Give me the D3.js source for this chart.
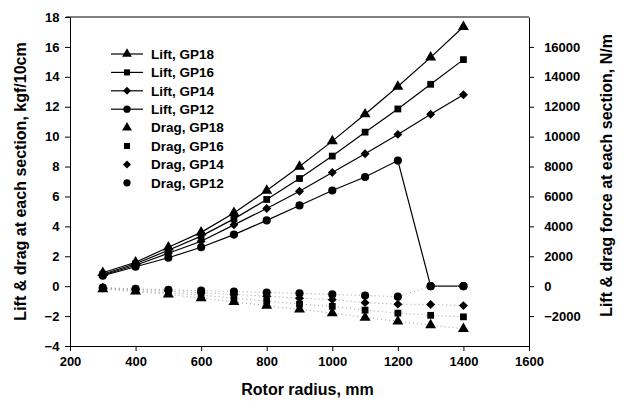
<!DOCTYPE html>
<html lang="en">
<head>
  <meta charset="utf-8">
  <title>Lift and drag per section</title>
  <script src="https://d3js.org/d3.v7.min.js"></script>
  <style>
    body { margin: 0; background: #fff; }
    #chart text { font-family: "Liberation Sans", Arial, sans-serif; font-weight: bold; fill: #000; }
    .tick line { stroke: #000; }
    .domain { stroke: #000; }
  </style>
</head>
<body>
  <div id="chart"></div>

  <script type="text/javascript">
    "use strict"

    // radius of each section, mm
    var radius = [300, 400, 500, 600, 700, 800, 900, 1000, 1100, 1200, 1300, 1400];

    // lift, kgf/10cm
    var liftGP18 = [0.9, 1.6, 2.6, 3.6, 4.9, 6.4, 8.0, 9.7, 11.5, 13.35, 15.3, 17.35];
    var liftGP16 = [0.8, 1.5, 2.4, 3.35, 4.5, 5.8, 7.2, 8.7, 10.3, 11.85, 13.5, 15.15];
    var liftGP14 = [0.75, 1.4, 2.2, 3.0, 4.1, 5.2, 6.35, 7.6, 8.85, 10.15, 11.5, 12.8];
    var liftGP12 = [0.7, 1.3, 1.9, 2.6, 3.45, 4.4, 5.4, 6.4, 7.3, 8.4, 0, 0];

    // drag, kgf/10cm
    var dragGP18 = [-0.2, -0.35, -0.55, -0.8, -1.05, -1.3, -1.55, -1.8, -2.1, -2.35, -2.6, -2.85];
    var dragGP16 = [-0.15, -0.3, -0.45, -0.6, -0.8, -1.0, -1.2, -1.35, -1.6, -1.8, -1.95, -2.05];
    var dragGP14 = [-0.12, -0.22, -0.33, -0.45, -0.55, -0.67, -0.8, -0.9, -1.1, -1.2, -1.22, -1.3];
    var dragGP12 = [-0.1, -0.17, -0.24, -0.3, -0.36, -0.42, -0.48, -0.55, -0.62, -0.7, 0, 0];

    var legendNames = ["Lift, GP18", "Lift, GP16", "Lift, GP14", "Lift, GP12",
                       "Drag, GP18", "Drag, GP16", "Drag, GP14", "Drag, GP12"];

    var xTicks = [200, 400, 600, 800, 1000, 1200, 1400, 1600];
    var yTicks = [-4, -2, 0, 2, 4, 6, 8, 10, 12, 14, 16, 18];
    var y2Ticks = [-2000, 0, 2000, 4000, 6000, 8000, 10000, 12000, 14000, 16000];

    // diamond = square turned 45 degrees
    var tri = {type: d3.symbolTriangle, size: 52, rot: 0};
    var sq = {type: d3.symbolSquare, size: 46, rot: 0};
    var dia = {type: d3.symbolSquare, size: 40, rot: 45};
    var circ = {type: d3.symbolCircle, size: 52, rot: 0};

    var series = [
      {name: legendNames[0], values: liftGP18, mark: tri, lift: true},
      {name: legendNames[1], values: liftGP16, mark: sq, lift: true},
      {name: legendNames[2], values: liftGP14, mark: dia, lift: true},
      {name: legendNames[3], values: liftGP12, mark: circ, lift: true},
      {name: legendNames[4], values: dragGP18, mark: tri, lift: false},
      {name: legendNames[5], values: dragGP16, mark: sq, lift: false},
      {name: legendNames[6], values: dragGP14, mark: dia, lift: false},
      {name: legendNames[7], values: dragGP12, mark: circ, lift: false}
    ];

    var larguraSVG = 626, alturaSVG = 408;
    var margin = {top: 17, right: 97, bottom: 62, left: 70};
    var w = larguraSVG - margin.left - margin.right,
        h = alturaSVG - margin.top - margin.bottom;

    var svg = d3.select('#chart')
      .append('svg')
        .attr('width', larguraSVG)
        .attr('height', alturaSVG);

    var g = svg.append('g')
        .attr('transform', 'translate(' + margin.left + ',' + margin.top + ')');

    // escalas
    var x = d3.scaleLinear().domain([200, 1600]).range([0, w]);
    var y = d3.scaleLinear().domain([-4, 18]).range([h, 0]);
    var y2 = d3.scaleLinear().domain([-4000, 18000]).range([h, 0]);

    // frame top line
    g.append('line')
      .attr('x1', -4).attr('x2', w)
      .attr('y1', 0).attr('y2', 0)
      .attr('stroke', '#000');

    // eixos
    g.append('g')
      .attr('transform', 'translate(0,' + h + ')')
      .call(d3.axisBottom(x).tickValues(xTicks).tickSize(5).tickSizeOuter(0).tickFormat(d3.format('d')))
      .call(function(a) { a.selectAll('text').attr('font-size', 13).attr('dy', '0.95em'); });

    g.append('g')
      .call(d3.axisLeft(y).tickValues(yTicks).tickSize(5).tickSizeOuter(0))
      .call(function(a) { a.selectAll('text').attr('font-size', 13).attr('dx', '-0.2em'); });

    g.append('g')
      .attr('transform', 'translate(' + w + ',0)')
      .call(d3.axisRight(y2).tickValues(y2Ticks).tickSize(5).tickSizeOuter(0)
        .tickFormat(d3.format('d')))
      .call(function(a) { a.selectAll('text').attr('font-size', 13).attr('dx', '0.55em'); });

    // linhas
    var line = d3.line()
      .x(function(d, i) { return x(radius[i]); })
      .y(function(d) { return y(d); });

    series.forEach(function(s) {
      g.append('path')
        .attr('d', line(s.values))
        .attr('fill', 'none')
        .attr('stroke', s.lift ? '#000' : '#999')
        .attr('stroke-width', s.lift ? 1.2 : 1)
        .attr('stroke-dasharray', s.lift ? null : '1,3');
    });

    // marcas
    series.forEach(function(s) {
      g.selectAll(null)
        .data(s.values)
        .enter()
        .append('path')
          .attr('d', d3.symbol().type(s.mark.type).size(s.mark.size))
          .attr('transform', function(d, i) {
            return 'translate(' + x(radius[i]) + ',' + y(d) + ') rotate(' + s.mark.rot + ')';
          })
          .attr('fill', '#000');
    });

    // legenda
    var leg = svg.append('g').attr('transform', 'translate(111,54)');
    series.forEach(function(s, i) {
      var row = leg.append('g').attr('transform', 'translate(0,' + (i * 18.4) + ')');
      if (s.lift) {
        row.append('line').attr('x1', 0).attr('x2', 32).attr('y1', 0).attr('y2', 0)
          .attr('stroke', '#000').attr('stroke-width', 1.2);
      }
      row.append('path')
        .attr('d', d3.symbol().type(s.mark.type).size(s.mark.size * 0.8))
        .attr('transform', 'translate(16,0) rotate(' + s.mark.rot + ')')
        .attr('fill', '#000');
      row.append('text')
        .attr('x', 40).attr('y', 0).attr('dy', '0.36em')
        .attr('font-size', 13.5)
        .text(s.name);
    });

    // titulos
    svg.append('text')
      .attr('x', margin.left + w / 2 + 8).attr('y', 389)
      .attr('text-anchor', 'middle').attr('dy', '0.35em')
      .attr('font-size', 16)
      .text('Rotor radius, mm');

    svg.append('text')
      .attr('transform', 'translate(20,' + (margin.top + h / 2) + ') rotate(-90)')
      .attr('text-anchor', 'middle').attr('dy', '0.35em')
      .attr('font-size', 16)
      .text('Lift  & drag at each section, kgf/10cm');

    svg.append('text')
      .attr('transform', 'translate(606,' + (margin.top + h / 2 - 6) + ') rotate(-90)')
      .attr('text-anchor', 'middle').attr('dy', '0.35em')
      .attr('font-size', 16)
      .text('Lift & drag force at each section, N/m');
  </script>
</body>
</html>
